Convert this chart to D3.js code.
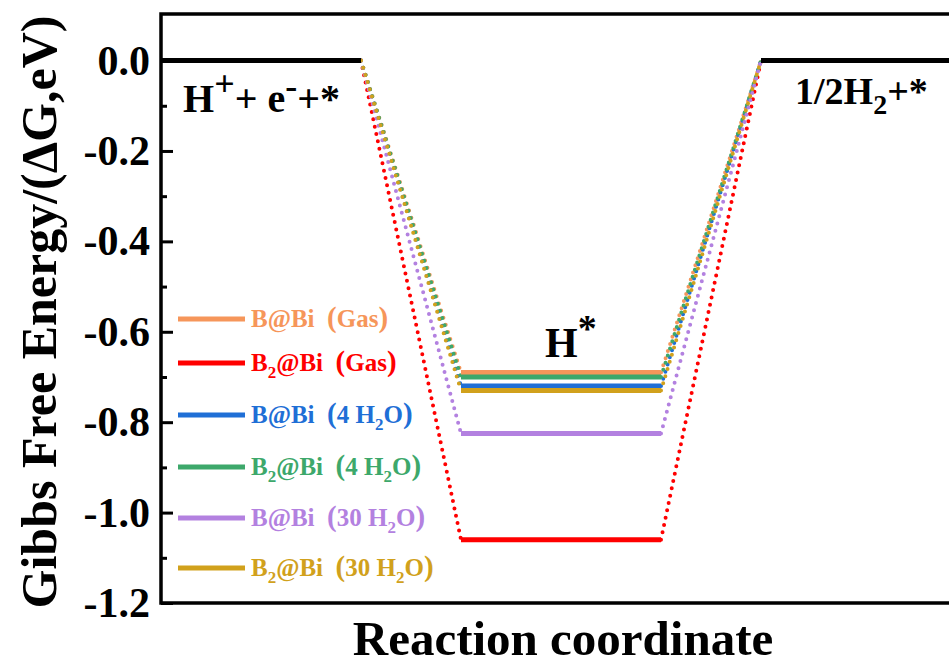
<!DOCTYPE html>
<html>
<head>
<meta charset="utf-8">
<script src="https://cdn.jsdelivr.net/npm/d3@7"></script>
<style>
  body { margin: 0; background: #fff; }
  svg { display: block; }
  svg text { font-family: "Liberation Serif", "Times New Roman", serif; font-weight: bold; }
</style>
</head>
<body>
<div id="chart"></div>
<script>
// Data
var seriesLabels = ["B@Bi (Gas)", "B_2@Bi (Gas)", "B@Bi (4 H_2O)", "B_2@Bi (4 H_2O)", "B@Bi (30 H_2O)", "B_2@Bi (30 H_2O)"];
var seriesColors = ["#F6965A", "#FF0000", "#1F6FD6", "#3DA86B", "#B381E0", "#D1A11C"];
var hEnergy = [-0.69, -1.06, -0.72, -0.70, -0.825, -0.73];   // H* level, eV
var startEnergy = 0.0;   // H+ + e- + *
var endEnergy = 0.0;     // 1/2 H2 + *
// reaction coordinate spans of the three states
var stateSpans = [[0, 1], [1.5, 2.5], [3, 4]];
var majorTicks = [0.0, -0.2, -0.4, -0.6, -0.8, -1.0, -1.2];
var minorTicks = [-0.1, -0.3, -0.5, -0.7, -0.9, -1.1];

var width = 949, height = 666;
var margin = {top: 14, left: 161, bottom: 603};

var svg = d3.select("#chart").append("svg")
    .attr("width", width)
    .attr("height", height);

// Scales
var x = d3.scaleLinear().domain([0, 4]).range([margin.left, margin.left + 800]);
var y = d3.scaleLinear().domain([-1.2, 0.103]).range([margin.bottom, margin.top]);

// Dotted connectors between states
var dots = svg.append("g");
hEnergy.forEach(function(e, i) {
  var pts = [[stateSpans[0][1], startEnergy], [stateSpans[1][0], e]];
  var pts2 = [[stateSpans[1][1], e], [stateSpans[2][0], endEnergy]];
  [pts, pts2].forEach(function(p) {
    dots.append("line")
      .attr("x1", x(p[0][0])).attr("y1", y(p[0][1]))
      .attr("x2", x(p[1][0])).attr("y2", y(p[1][1]))
      .attr("stroke", seriesColors[i])
      .attr("stroke-width", 4)
      .attr("stroke-linecap", "round")
      .attr("stroke-dasharray", "0 7.5");
  });
});

// Black levels: initial and final state
svg.append("line")
  .attr("x1", x(stateSpans[0][0])).attr("x2", x(stateSpans[0][1]))
  .attr("y1", y(startEnergy)).attr("y2", y(startEnergy))
  .attr("stroke", "#000").attr("stroke-width", 5);
svg.append("line")
  .attr("x1", x(stateSpans[2][0])).attr("x2", x(stateSpans[2][1]))
  .attr("y1", y(endEnergy)).attr("y2", y(endEnergy))
  .attr("stroke", "#000").attr("stroke-width", 5);

// H* levels
svg.append("g").selectAll("line")
  .data(hEnergy)
  .enter().append("line")
  .attr("x1", x(stateSpans[1][0]))
  .attr("x2", x(stateSpans[1][1]))
  .attr("y1", function(d) { return y(d); })
  .attr("y2", function(d) { return y(d); })
  .attr("stroke", function(d, i) { return seriesColors[i]; })
  .attr("stroke-width", 5);

// Frame
svg.append("path")
  .attr("d", "M" + (width + 10) + "," + margin.top + "H" + margin.left + "V" + margin.bottom + "H" + (width + 10))
  .attr("fill", "none")
  .attr("stroke", "#000")
  .attr("stroke-width", 3.5);

// Y axis with inward ticks
var yAxis = d3.axisLeft(y)
  .tickValues(majorTicks)
  .tickSize(-12)
  .tickPadding(11)
  .tickFormat(function(d) { return d.toFixed(1); });
var gY = svg.append("g").attr("transform", "translate(" + margin.left + ",0)").call(yAxis);
gY.attr("font-family", null).attr("font-size", null);
gY.select(".domain").remove();
gY.selectAll(".tick line").attr("stroke-width", 3);
gY.selectAll(".tick text")
  .attr("font-size", 42)
  .attr("fill", "#000");

var gMinor = svg.append("g").attr("transform", "translate(" + margin.left + ",0)")
  .call(d3.axisLeft(y).tickValues(minorTicks).tickSize(-6).tickFormat(""));
gMinor.select(".domain").remove();
gMinor.selectAll(".tick line").attr("stroke-width", 3);

// Axis titles
svg.append("text")
  .attr("transform", "translate(56," + 312 + ")rotate(-90)")
  .attr("text-anchor", "middle")
  .attr("font-size", 50)
  .text("Gibbs Free Energy/(\u0394G,eV)");

svg.append("text")
  .attr("x", 563)
  .attr("y", 655)
  .attr("text-anchor", "middle")
  .attr("font-size", 49)
  .text("Reaction coordinate");

// State labels
var t1 = svg.append("text").attr("x", 183).attr("y", 112).attr("font-size", 40);
t1.append("tspan").text("H");
t1.append("tspan").attr("dy", -16).attr("font-size", 36).text("+");
t1.append("tspan").attr("dy", 16).text("+ e");
t1.append("tspan").attr("dy", -14).attr("font-size", 36).text("-");
t1.append("tspan").attr("dy", 14).text("+*");

var t2 = svg.append("text").attr("x", 795).attr("y", 104).attr("font-size", 38);
t2.append("tspan").text("1/2H");
t2.append("tspan").attr("dy", 10).attr("font-size", 28).text("2");
t2.append("tspan").attr("dy", -10).text("+*");

var t3 = svg.append("text").attr("x", 545).attr("y", 357).attr("font-size", 42);
t3.append("tspan").text("H");
t3.append("tspan").attr("dy", -16).attr("font-size", 38).text("*");

// Legend
var legendY = [319, 363, 415, 467, 518, 568];
var legend = svg.append("g");
seriesLabels.forEach(function(lab, i) {
  legend.append("line")
    .attr("x1", 178).attr("x2", 245)
    .attr("y1", legendY[i]).attr("y2", legendY[i])
    .attr("stroke", seriesColors[i])
    .attr("stroke-width", 5);
  var t = legend.append("text")
    .attr("x", 251)
    .attr("y", legendY[i] + 8)
    .attr("font-size", 25)
    .attr("fill", seriesColors[i]);
  // split into plain text, subscripts and (larger) brackets
  var tokens = lab.replace(" (", "\u00A0\u00A0(").split(/(_2|\(|\))/).filter(function(s) { return s !== ""; });
  var shift = 0;
  tokens.forEach(function(tok) {
    var ts = t.append("tspan");
    if (tok === "_2") {
      ts.attr("dy", 7 - shift).attr("font-size", 17).text("2");
      shift = 7;
    } else {
      ts.attr("dy", -shift).text(tok);
      shift = 0;
      if (tok === "(" || tok === ")") ts.attr("font-size", 29);
    }
  });
});
</script>
</body>
</html>
